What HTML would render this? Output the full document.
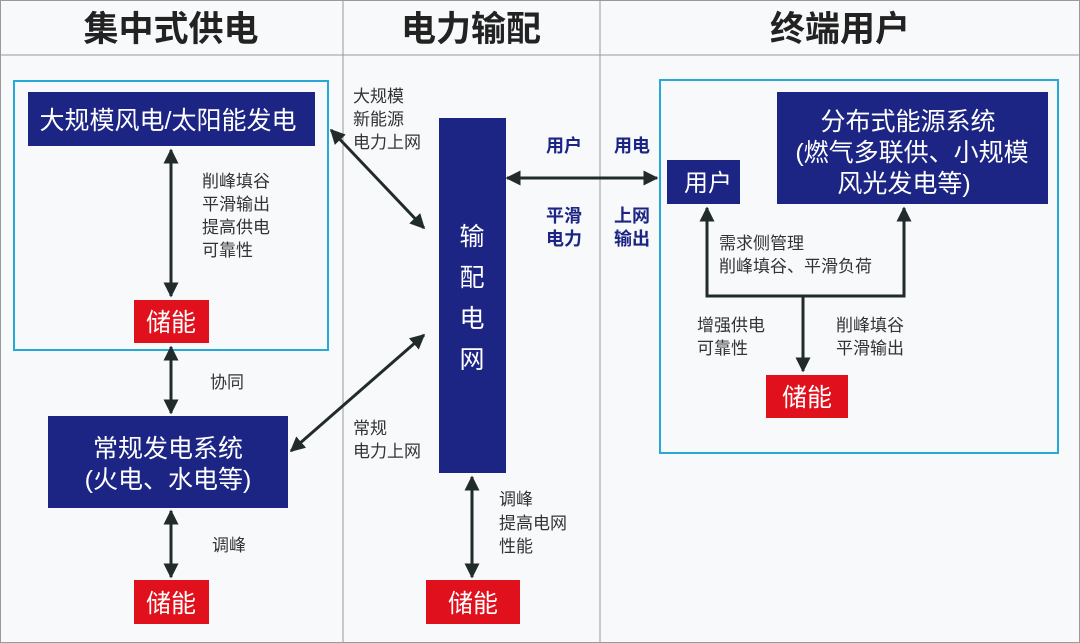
<!DOCTYPE html>
<html><head><meta charset="utf-8"><style>
body{margin:0;background:#f7f9fb}
svg{display:block}
text{font-family:"Liberation Sans","Noto Sans CJK SC",sans-serif}
</style></head><body>
<svg width="1080" height="643" viewBox="0 0 1080 643" xmlns="http://www.w3.org/2000/svg">
<defs>
<marker id="a" viewBox="0 0 10 10" refX="9" refY="5" markerWidth="5" markerHeight="5" orient="auto-start-reverse"><path d="M0,0L10,5L0,10z" fill="#222b2b"/></marker>
</defs>
<rect x="0.5" y="0.5" width="1079" height="642" fill="#f7f9fb" stroke="#999"/>
<line x1="0" y1="55" x2="1080" y2="55" stroke="#999"/>
<line x1="343" y1="0" x2="343" y2="643" stroke="#999"/>
<line x1="600" y1="0" x2="600" y2="643" stroke="#999"/>
<g font-size="35" font-weight="bold" fill="#222" text-anchor="middle">
<text x="171" y="41">集中式供电</text><text x="471" y="41">电力输配</text><text x="840" y="41">终端用户</text>
</g>
<rect x="14" y="81" width="314" height="269" fill="none" stroke="#27a9d8" stroke-width="2"/>
<rect x="660" y="80" width="398" height="373" fill="none" stroke="#27a9d8" stroke-width="2"/>
<g fill="#1c2484">
<rect x="28" y="92" width="287" height="54"/>
<rect x="48" y="416" width="240" height="92"/>
<rect x="439" y="118" width="67" height="355"/>
<rect x="667" y="160" width="73" height="44"/>
<rect x="777" y="92" width="271" height="112"/>
</g>
<g fill="#e0101c">
<rect x="134" y="300" width="75" height="43"/>
<rect x="134" y="580" width="75" height="44"/>
<rect x="426" y="580" width="94" height="44"/>
<rect x="766" y="375" width="82" height="43"/>
</g>
<g fill="#fff" font-size="25" text-anchor="middle">
<text x="168" y="129">大规模风电/太阳能发电</text>
<text x="168" y="457">常规发电系统</text>
<text x="168" y="488">(火电、水电等)</text>
<text x="472" y="245">输</text><text x="472" y="286">配</text><text x="472" y="327">电</text><text x="472" y="368">网</text>
<text x="708" y="191" font-size="24">用户</text>
<text x="908" y="130">分布式能源系统</text>
<text x="912" y="161">(燃气多联供、小规模</text>
<text x="904" y="192">风光发电等)</text>
<text x="171" y="331">储能</text><text x="171" y="612">储能</text><text x="473" y="612">储能</text><text x="807" y="406">储能</text>
</g>
<g stroke="#222b2b" stroke-width="3" fill="none" marker-start="url(#a)" marker-end="url(#a)">
<line x1="171" y1="150" x2="171" y2="296"/>
<line x1="171" y1="347" x2="171" y2="413"/>
<line x1="171" y1="511" x2="171" y2="577"/>
<line x1="472" y1="477" x2="472" y2="577"/>
<line x1="331" y1="130" x2="424" y2="228"/>
<line x1="291" y1="451" x2="424" y2="335"/>
<line x1="507" y1="178" x2="657" y2="178"/>
</g>
<g stroke="#222b2b" stroke-width="3" fill="none">
<path d="M707,208V296H904V208" marker-start="url(#a)" marker-end="url(#a)"/>
<line x1="803" y1="296" x2="803" y2="371" marker-end="url(#a)"/>
</g>
<g fill="#333" font-size="17">
<text x="202" y="187">削峰填谷</text><text x="202" y="210">平滑输出</text><text x="202" y="233">提高供电</text><text x="202" y="256">可靠性</text>
<text x="210" y="388">协同</text><text x="212" y="551">调峰</text>
<text x="353" y="102">大规模</text><text x="353" y="125">新能源</text><text x="353" y="148">电力上网</text>
<text x="353" y="434">常规</text><text x="353" y="457">电力上网</text>
<text x="499" y="505">调峰</text><text x="499" y="529">提高电网</text><text x="499" y="552">性能</text>
<text x="719" y="249">需求侧管理</text><text x="719" y="272">削峰填谷、平滑负荷</text>
<text x="697" y="331">增强供电</text><text x="697" y="354">可靠性</text>
<text x="836" y="331">削峰填谷</text><text x="836" y="354">平滑输出</text>
</g>
<g fill="#1c2484" font-size="18" font-weight="bold">
<text x="546" y="152">用户</text><text x="614" y="152">用电</text>
<text x="546" y="222">平滑</text><text x="546" y="245">电力</text>
<text x="614" y="222">上网</text><text x="614" y="245">输出</text>
</g>
</svg>
</body></html>
